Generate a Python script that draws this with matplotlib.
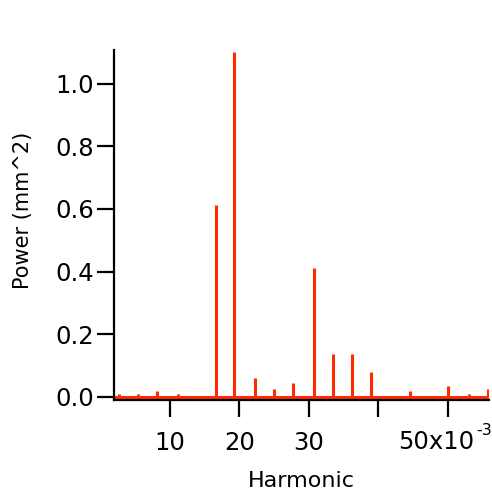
import matplotlib
matplotlib.use("Agg")
import matplotlib.pyplot as plt

# Harmonic positions (x10^-3) and power (mm^2)
harmonic = [2.69, 5.43, 8.17, 11.15, 13.93, 16.63, 19.27, 22.30, 25.03, 27.77,
            30.75, 33.49, 36.20, 38.90, 41.90, 44.60, 47.40, 50.06, 53.10, 55.80]
power = [0.009, 0.009, 0.018, 0.009, 0.002, 0.613, 1.10, 0.060, 0.027, 0.044,
         0.410, 0.137, 0.137, 0.079, 0.002, 0.018, 0.002, 0.034, 0.009, 0.027]

xticks = [10, 20, 30, 40, 50]
xticklabels = ["10", "20", "30", "", ""]
yticks = [0.0, 0.2, 0.4, 0.6, 0.8, 1.0]
yticklabels = ["0.0", "0.2", "0.4", "0.6", "0.8", "1.0"]

red = "#ff2a00"
W, H = 492, 495

fig = plt.figure(figsize=(W / 100, H / 100), dpi=100)
ax = fig.add_axes([114 / W, 1 - 400 / H, 375 / W, 350 / H])

ax.vlines(harmonic, 0, power, color=red, lw=2.2)
ax.axhline(0, color=red, lw=2.2)

ax.set_xlim(1.93, 55.97)
ax.set_ylim(-0.0096, 1.107)

for s in ("top", "right"):
    ax.spines[s].set_visible(False)
for s in ("left", "bottom"):
    ax.spines[s].set_linewidth(1.6)
    ax.spines[s].set_color("black")

ax.set_xticks(xticks)
ax.set_xticklabels(xticklabels)
ax.set_yticks(yticks)
ax.set_yticklabels(yticklabels)
ax.tick_params(axis="both", direction="out", length=12, width=1.6,
               labelsize=17.5, colors="black")
ax.tick_params(axis="x", pad=10)
ax.tick_params(axis="y", pad=2.5)

# last x tick label with the axis multiplier
fig.text(398 / W, 1 - 449 / H, "50x10", fontsize=17.5, ha="left", va="baseline")
fig.text(476 / W, 1 - 423 / H, "-3", fontsize=11.5, ha="left", va="top")

ax.set_xlabel("Harmonic", fontsize=16)
ax.set_ylabel("Power (mm^2)", fontsize=15)
ax.xaxis.set_label_coords(0.5, -0.204)
ax.yaxis.set_label_coords(-0.216, 0.543)

fig.savefig("out.png", dpi=100)
